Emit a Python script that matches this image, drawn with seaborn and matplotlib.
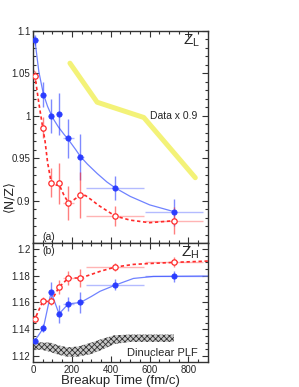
import numpy as np
import pandas as pd
import matplotlib
matplotlib.use("Agg")
import matplotlib.pyplot as plt
import seaborn as sns

# measured points (breakup time in fm/c)
t_pts = [10, 53, 93, 134, 182, 244, 423, 725]
t_err = [18, 8, 8, 8, 27, 20, 150, 150]

# panel (a): <N/Z> of Z_L
nz_blue = [1.089, 1.025, 1.000, 1.002, 0.9734, 0.951, 0.915, 0.886]
nz_blue_err = [0.006, 0.015, 0.020, 0.025, 0.023, 0.027, 0.014, 0.016]
nz_red = [1.047, 0.986, 0.921, 0.9205, 0.8976, 0.9066, 0.8818, 0.8763]
nz_red_err = [0.006, 0.012, 0.017, 0.024, 0.020, 0.027, 0.012, 0.016]

# panel (b): <N/Z> of Z_H
zh_blue = [1.1315, 1.1408, 1.1678, 1.1515, 1.159, 1.160, 1.1733, 1.1795]
zh_blue_err = [0.002, 0.003, 0.0075, 0.007, 0.005, 0.0075, 0.004, 0.004]
zh_red = [1.1478, 1.1608, 1.1608, 1.1715, 1.1783, 1.1783, 1.1865, 1.1903]
zh_red_err = [0.002, 0.003, 0.003, 0.005, 0.005, 0.007, 0.003, 0.004]

# fitted / guide curves
ca_t_blue = [0, 10, 30, 53, 75, 100, 130, 160, 182, 220, 244, 280, 330, 380, 423, 500, 600, 725]
ca_y_blue = [1.097, 1.089, 1.052, 1.026, 1.011, 0.998, 0.987, 0.978, 0.972, 0.960, 0.952,
             0.943, 0.932, 0.922, 0.915, 0.905, 0.895, 0.887]
ca_t_red = [0, 10, 30, 50, 62, 75, 93, 115, 134, 160, 182, 210, 244, 270, 300, 340, 423, 500, 600, 725]
ca_y_red = [1.055, 1.047, 1.015, 0.986, 0.970, 0.945, 0.922, 0.918, 0.919, 0.906, 0.8976, 0.901,
            0.9066, 0.906, 0.901, 0.894, 0.8818, 0.877, 0.874, 0.8763]
cb_t_blue = [0, 10, 53, 93, 134, 182, 244, 300, 345, 423, 517, 620, 725, 900]
cb_y_blue = [1.1285, 1.1315, 1.1408, 1.1678, 1.1515, 1.159, 1.160, 1.1645, 1.1684, 1.1730,
             1.1780, 1.1795, 1.1796, 1.1798]
cb_t_red = [0, 10, 50, 93, 134, 182, 244, 300, 345, 423, 517, 620, 725, 900]
cb_y_red = [1.146, 1.1478, 1.1608, 1.1608, 1.1715, 1.1783, 1.1783, 1.1810, 1.1833, 1.1865,
            1.1885, 1.1893, 1.1900, 1.1910]

# data x 0.9 band
data_t = [190, 330, 570, 835]
data_y = [1.062, 1.016, 0.998, 0.927]

# dinuclear PLF band
plf_t = [5, 50, 90, 130, 175, 230, 300, 360, 420, 500, 600, 725]
plf_top = [1.131, 1.130, 1.130, 1.128, 1.1265, 1.127, 1.130, 1.133, 1.1355, 1.136, 1.136, 1.136]
plf_bot = [1.125, 1.1245, 1.123, 1.121, 1.1195, 1.1195, 1.1215, 1.125, 1.129, 1.1305, 1.1305, 1.1305]

sns.set_style("ticks")
plt.rcParams['font.family'] = ['Liberation Sans', 'DejaVu Sans']
plt.rcParams['hatch.linewidth'] = 0.6

BLUE = "#2a3cff"
LBLUE = "#6f82ff"
RED = "#ff2a2a"

fig = plt.figure(figsize=(2.99, 3.87), dpi=100)
ax1 = fig.add_axes([0.1104, 0.372, 0.585, 0.548])
ax2 = fig.add_axes([0.1104, 0.0646, 0.585, 0.3075])


def px(x):
    # horizontal pixel position -> fm/c
    return (x - 33) / 155 * 800


def draw_points(ax, y, yerr, color, filled):
    ax.errorbar(t_pts, y, yerr=yerr, fmt="none", ecolor=color, elinewidth=1.0, alpha=0.6, zorder=3)
    ax.errorbar(t_pts, y, xerr=t_err, fmt="none", ecolor=color, elinewidth=1.0, alpha=0.35, zorder=3)
    df = pd.DataFrame({"t": t_pts, "y": y})
    if filled:
        sns.scatterplot(data=df, x="t", y="y", ax=ax, color=color, marker="o", s=15,
                        edgecolor=color, linewidth=0.5, zorder=5)
    else:
        sns.scatterplot(data=df, x="t", y="y", ax=ax, facecolor="white", marker="o", s=15,
                        edgecolor=color, linewidth=0.9, zorder=5)


# ---- panel (a)
ax1.plot(data_t, data_y, color="#f2f060", lw=3.6, alpha=0.85, zorder=1)
sns.lineplot(x=ca_t_blue, y=ca_y_blue, ax=ax1, color=LBLUE, lw=0.9, sort=False, estimator=None, zorder=2)
sns.lineplot(x=ca_t_red, y=ca_y_red, ax=ax1, color=RED, lw=1.2, sort=False, estimator=None,
             zorder=2).lines[-1].set_dashes([2, 1.6])
draw_points(ax1, nz_blue, nz_blue_err, BLUE, True)
draw_points(ax1, nz_red, nz_red_err, RED, False)
ax1.set_xlim(0, 900)
ax1.set_ylim(0.85, 1.1)
ax1.set_yticks([0.9, 0.95, 1.0, 1.05, 1.1])
ax1.set_yticklabels(["0.9", "0.95", "1", "1.05", "1.1"])
ax1.set_yticks(np.arange(0.85, 1.1001, 0.01), minor=True)
ax1.tick_params(labelbottom=False)
ax1.text(px(197), 1.0, "Data x 0.9", fontsize=7.5, ha="right", va="center")
ax1.text(px(199), 1.088, "Z$_\\mathregular{L}$", fontsize=11, ha="right", va="center")
ax1.text(px(42), 0.857, "(a)", fontsize=7.5, ha="left", va="center")

# ---- panel (b)
ax2.fill_between(plf_t, plf_bot, plf_top, facecolor="#c8c8c8", edgecolor="#333333",
                 hatch="xxxxxx", lw=0, zorder=1)
sns.lineplot(x=cb_t_blue, y=cb_y_blue, ax=ax2, color=LBLUE, lw=0.9, sort=False, estimator=None, zorder=2)
sns.lineplot(x=cb_t_red, y=cb_y_red, ax=ax2, color=RED, lw=1.2, sort=False, estimator=None,
             zorder=2).lines[-1].set_dashes([2, 1.6])
draw_points(ax2, zh_blue, zh_blue_err, BLUE, True)
draw_points(ax2, zh_red, zh_red_err, RED, False)
ax2.set_xlim(0, 900)
ax2.set_ylim(1.1155, 1.2045)
ax2.set_yticks([1.12, 1.14, 1.16, 1.18, 1.2])
ax2.set_yticklabels(["1.12", "1.14", "1.16", "1.18", "1.2"])
ax2.set_yticks(np.arange(1.12, 1.2045, 0.005), minor=True)
ax2.set_xticks([0, 200, 400, 600, 800])
ax2.text(px(197), 1.1225, "Dinuclear PLF", fontsize=8, ha="right", va="center")
ax2.text(px(199), 1.1975, "Z$_\\mathregular{H}$", fontsize=11, ha="right", va="center")
ax2.text(px(42), 1.1985, "(b)", fontsize=7.5, ha="left", va="center")

for ax in (ax1, ax2):
    ax.set_xticks(np.arange(0, 901, 50), minor=True)
    ax.set_xlabel("")
    ax.set_ylabel("")
    ax.tick_params(which="both", direction="in", top=True, right=True, labelsize=7,
                   width=0.8, color="#333333", pad=2)
    ax.tick_params(which="major", length=4)
    ax.tick_params(which="minor", length=2)
    for s in ax.spines.values():
        s.set_linewidth(1.0)
        s.set_color("#333333")

ax2.set_xlabel("Breakup Time (fm/c)", fontsize=9.5, labelpad=0)

fig.text(0.03, 0.494, "\u27e8N/Z\u27e9", rotation=90, fontsize=9, ha="center", va="center",
         family=['DejaVu Sans'])

fig.savefig("out.png", dpi=100)
